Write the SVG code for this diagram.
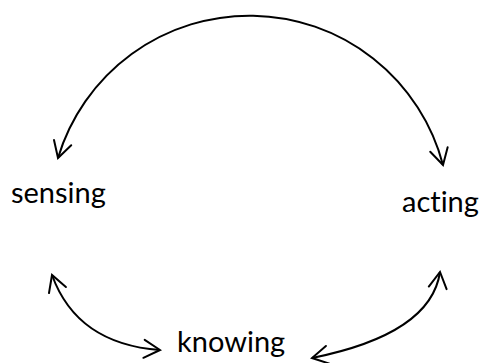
<svg xmlns="http://www.w3.org/2000/svg" width="481" height="363" viewBox="0 0 481 363">
<defs>
<marker id="v" markerUnits="userSpaceOnUse" markerWidth="40" markerHeight="40" refX="0" refY="0" viewBox="-20 -20 40 40" orient="auto-start-reverse" overflow="visible">
<path d="M -16 -9 L 0 0 L -16 9" fill="none" stroke="#000" stroke-width="2" stroke-linecap="round" stroke-linejoin="miter"/>
</marker>
<style>
.lbl{font-family:Lato,"Liberation Sans",sans-serif;font-size:29px;fill:#000;font-variant-ligatures:none;font-feature-settings:"liga" 0,"dlig" 0}
.c{fill:none;stroke:#000;stroke-width:2;marker-start:url(#v);marker-end:url(#v)}
</style>
</defs>
<rect width="481" height="363" fill="#fff"/>
<g id="connectors">
<path class="c" d="M 58 158 A 200 200 0 0 1 443 165"/>
<path class="c" d="M 52 275 Q 77 344 160 350"/>
<path class="c" d="M 312 358 Q 431 334 440 272"/>
</g>
<g id="sensing"><text class="lbl" x="11" y="203">sensing</text></g>
<g id="acting"><text class="lbl" x="402" y="212">acting</text></g>
<g id="knowing"><text class="lbl" x="177" y="352">knowing</text></g>
</svg>
